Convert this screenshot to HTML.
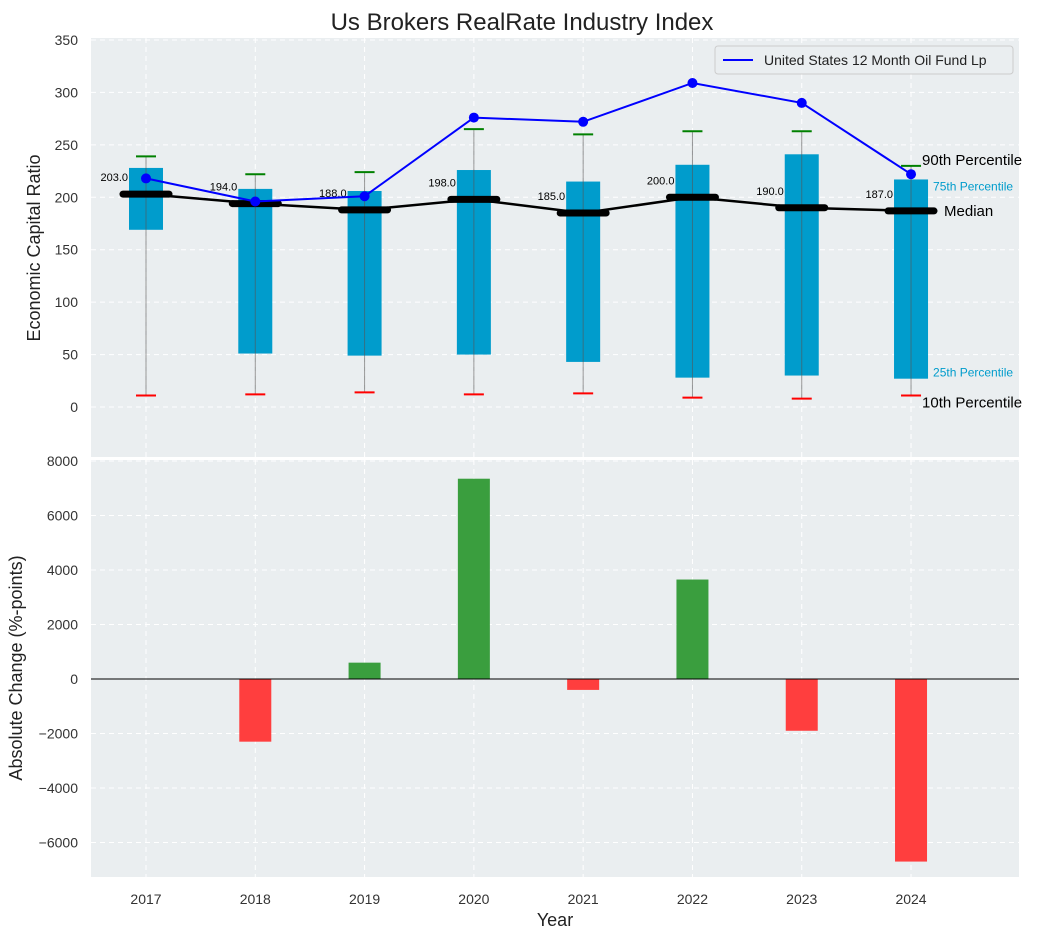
<!DOCTYPE html>
<html><head><meta charset="utf-8"><style>
body{margin:0;background:#fff;font-family:"Liberation Sans","DejaVu Sans",sans-serif}
svg text{font-family:"Liberation Sans","DejaVu Sans",sans-serif}
</style></head><body>
<svg id="c" width="1043" height="940" xmlns="http://www.w3.org/2000/svg">
<text x="522" y="30" text-anchor="middle" font-size="24" fill="#222">Us Brokers RealRate Industry Index</text>
<rect x="91" y="38" width="928" height="419" fill="#eaeef0"/>
<rect x="91" y="460" width="928" height="417" fill="#eaeef0"/>
<g id="g1"></g><g id="g2"></g>
<text x="40" y="248" transform="rotate(-90 40 248)" text-anchor="middle" font-size="18" fill="#222">Economic Capital Ratio</text>
<text x="22" y="668" transform="rotate(-90 22 668)" text-anchor="middle" font-size="18" fill="#222">Absolute Change (%-points)</text>
<text x="555" y="926" text-anchor="middle" font-size="18" fill="#222">Year</text>
<g>
<rect x="715" y="46" width="298" height="28" rx="3" fill="#eaeef0" stroke="#ccc"/>
<line x1="723" y1="60" x2="753" y2="60" stroke="#0000ff" stroke-width="2"/>
<text x="764" y="65" font-size="14" fill="#222">United States 12 Month Oil Fund Lp</text>
</g>
</svg>
<script>
const years=[2017,2018,2019,2020,2021,2022,2023,2024];
const p10=[11,12,14,12,13,9,8,11];
const p25=[169,51,49,50,43,28,30,27];
const median=[203,194,188,198,185,200,190,187];
const p75=[228,208,206,226,215,231,241,217];
const p90=[239,222,224,265,260,263,263,230];
const oil=[218,196,201,276,272,309,290,222];
const change=[0,-2300,600,7350,-400,3650,-1900,-6700];
const yTicks1=[0,50,100,150,200,250,300,350];
const yTicks2=[-6000,-4000,-2000,0,2000,4000,6000,8000];
const NS="http://www.w3.org/2000/svg";
const X=v=>146+(v-2017)*109.29;
const Y1=v=>407-v*367/350;
const Y2=v=>679-v*218/8000;
function mk(p,t,a,txt){const e=document.createElementNS(NS,t);for(const k in a)e.setAttribute(k,a[k]);if(txt!=null)e.textContent=txt;p.appendChild(e);return e;}
const g1=document.getElementById('g1'),g2=document.getElementById('g2');
yTicks1.forEach(t=>{mk(g1,'line',{x1:91,x2:1019,y1:Y1(t),y2:Y1(t),stroke:'#fff','stroke-dasharray':'5,4'});
const l=mk(g1,'text',{x:78,y:Y1(t)+5,'text-anchor':'end','font-size':14,fill:'#333'},t);

});
yTicks2.forEach(t=>{mk(g2,'line',{x1:91,x2:1019,y1:Y2(t),y2:Y2(t),stroke:'#fff','stroke-dasharray':'5,4'});
const l=mk(g2,'text',{x:78,y:Y2(t)+5,'text-anchor':'end','font-size':14,fill:'#333'},t<0?'\u2212'+(-t):t);

});
years.forEach(y=>{mk(g1,'line',{x1:X(y),x2:X(y),y1:38,y2:457,stroke:'#fff','stroke-dasharray':'5,4'});
mk(g2,'line',{x1:X(y),x2:X(y),y1:460,y2:877,stroke:'#fff','stroke-dasharray':'5,4'});
const l=mk(g2,'text',{x:X(y),y:904,'text-anchor':'middle','font-size':14,fill:'#333'},y);

});
years.forEach((y,i)=>{const x=X(y);
const r=mk(g1,'rect',{x:x-17,y:Y1(p75[i]),width:34,height:Y1(p25[i])-Y1(p75[i]),fill:'#009ccc'});


mk(g1,'line',{x1:x,x2:x,y1:Y1(p90[i]),y2:Y1(p10[i]),stroke:'#555','stroke-opacity':0.6,'stroke-width':1});
mk(g1,'line',{x1:x-10,x2:x+10,y1:Y1(p90[i]),y2:Y1(p90[i]),stroke:'green','stroke-width':2});
mk(g1,'line',{x1:x-10,x2:x+10,y1:Y1(p10[i]),y2:Y1(p10[i]),stroke:'red','stroke-width':2});
const m=mk(g1,'line',{x1:x-23,x2:x+23,y1:Y1(median[i]),y2:Y1(median[i]),stroke:'#000','stroke-width':7,'stroke-linecap':'round'});


const t=mk(g1,'text',{x:x-18,y:Y1(median[i])-13,'text-anchor':'end','font-size':11,fill:'#000'},median[i].toFixed(1));


});
const ml=mk(g1,'polyline',{points:years.map((y,i)=>X(y)+','+Y1(median[i])).join(' '),fill:'none',stroke:'#000','stroke-width':2.5});


const ol=mk(g1,'polyline',{points:years.map((y,i)=>X(y)+','+Y1(oil[i])).join(' '),fill:'none',stroke:'#0000ff','stroke-width':2});


years.forEach((y,i)=>{const c=mk(g1,'circle',{cx:X(y),cy:Y1(oil[i]),r:5,fill:'#0000ff'});

});
const L=years.length-1,lx=X(years[L]);
[[p90[L],'90th Percentile',15,'#000',lx+11,-6],[p75[L],'75th Percentile',12,'#009ccc',lx+22,6],[median[L],'Median',15,'#000',lx+33,0],[p25[L],'25th Percentile',12,'#009ccc',lx+22,-7],[p10[L],'10th Percentile',15,'#000',lx+11,7]].forEach(a=>{
const t=mk(g1,'text',{x:a[4],y:Y1(a[0])+a[5]+5,'font-size':a[2],fill:a[3]},a[1]);

});
years.forEach((y,i)=>{const v=change[i];if(v===0)return;
const b=mk(g2,'rect',{x:X(y)-16,y:Math.min(Y2(v),Y2(0)),width:32,height:Math.abs(Y2(v)-Y2(0)),fill:v>0?'#3a9e3e':'#ff3e3e'});

});
mk(g2,'line',{x1:91,x2:1019,y1:Y2(0),y2:Y2(0),stroke:'#000','stroke-width':1});
</script>
</body></html>
